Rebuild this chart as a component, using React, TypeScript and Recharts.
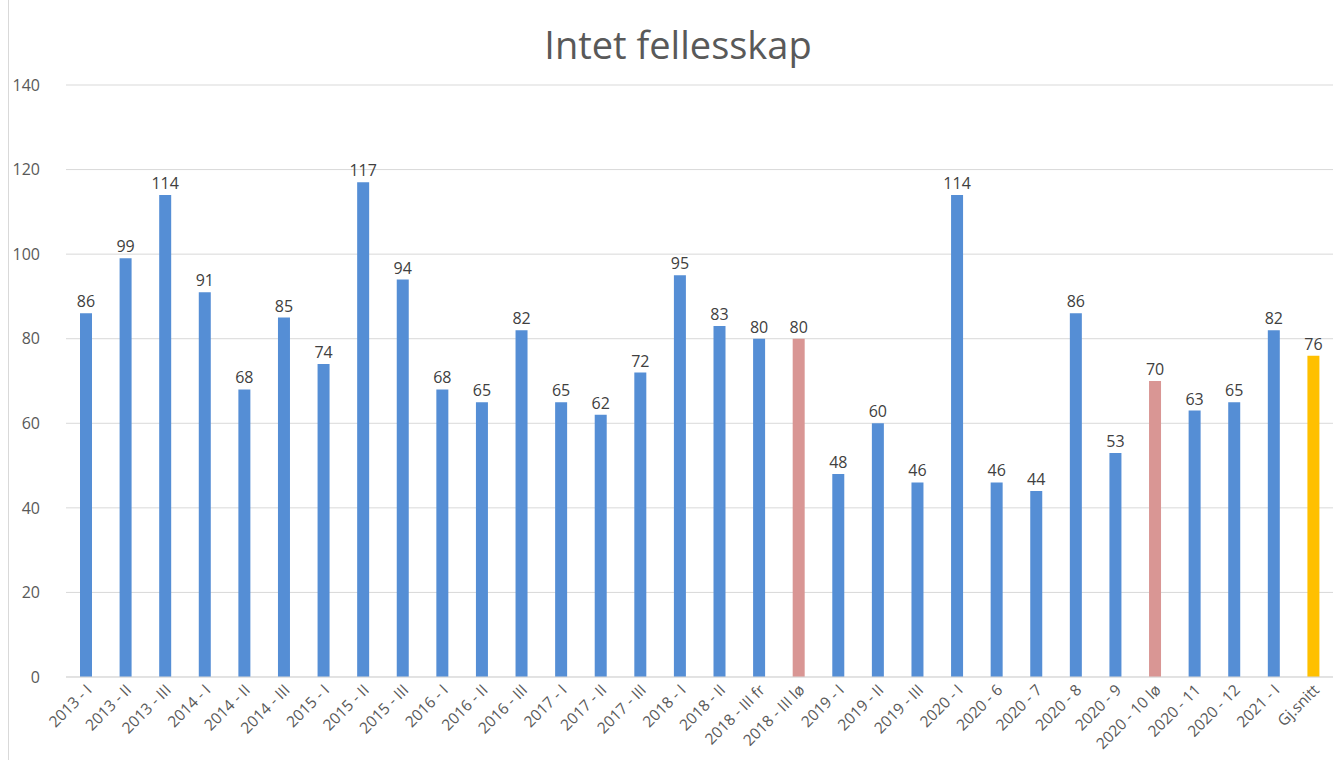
import React from 'react';
import { BarChart, Bar, XAxis, YAxis, CartesianGrid, Cell, LabelList } from 'recharts';

const categories = [
  '2013 - I', '2013 - II', '2013 - III', '2014 - I', '2014 - II', '2014 - III',
  '2015 - I', '2015 - II', '2015 - III', '2016 - I', '2016 - II', '2016 - III',
  '2017 - I', '2017 - II', '2017 - III', '2018 - I', '2018 - II', '2018 - III fr',
  '2018 - III lø', '2019 - I', '2019 - II', '2019 - III', '2020 - I', '2020 - 6',
  '2020 - 7', '2020 - 8', '2020 - 9', '2020 - 10 lø', '2020 - 11', '2020 - 12',
  '2021 - I', 'Gj.snitt',
];

const values = [
  86, 99, 114, 91, 68, 85, 74, 117, 94, 68, 65, 82, 65, 62, 72, 95, 83, 80,
  80, 48, 60, 46, 114, 46, 44, 86, 53, 70, 63, 65, 82, 76,
];

// highlighted categories
const pinkCategories = ['2018 - III lø', '2020 - 10 lø'];
const averageCategory = 'Gj.snitt';

const yTicks = [0, 20, 40, 60, 80, 100, 120, 140];

const data = categories.map((name, i) => ({ name, value: values[i] }));

const colorFor = (name: string) => {
  if (name === averageCategory) return '#FFC000';
  if (pinkCategories.includes(name)) return '#D99694';
  return '#558ED5';
};

const FONT = '"Open Sans", "Liberation Sans", sans-serif';

const XTick = (props: any) => {
  const { x, y, payload } = props;
  return (
    <g transform={`translate(${x + 7},${y + 6})`}>
      <text
        textAnchor='end'
        transform='rotate(-45)'
        fontSize={15.5}
        fontFamily={FONT}
        fill='#595959'
      >
        {payload.value}
      </text>
    </g>
  );
};

const App = () => {
  return (
    <div
      style={{
        position: 'absolute',
        left: 0,
        top: 0,
        width: 1337,
        height: 760,
        background: '#fff',
        fontFamily: FONT,
      }}
    >
      <div
        style={{
          position: 'absolute',
          left: 8,
          top: 0,
          width: 1,
          height: 760,
          background: '#d9d9d9',
        }}
      />
      <div
        style={{
          position: 'absolute',
          left: 0,
          top: 18,
          width: 1356,
          textAlign: 'center',
          fontSize: 38,
          color: '#595959',
        }}
      >
        Intet fellesskap
      </div>
      <BarChart
        width={1337}
        height={760}
        data={data}
        margin={{ top: 85, right: 4, bottom: 3, left: 0 }}
        barSize={12}
      >
        <CartesianGrid vertical={false} stroke='#d9d9d9' />
        <XAxis
          dataKey='name'
          interval={0}
          height={80}
          tick={<XTick />}
          tickLine={false}
          axisLine={{ stroke: '#d9d9d9' }}
        />
        <YAxis
          width={66}
          domain={[0, 140]}
          ticks={yTicks}
          tickLine={false}
          axisLine={false}
          tickMargin={20}
          tick={{ fontSize: 16, fill: '#595959', fontFamily: FONT }}
        />
        <Bar dataKey='value' isAnimationActive={false}>
          {data.map((entry, index) => (
            <Cell key={`cell-${index}`} fill={colorFor(entry.name)} />
          ))}
          <LabelList
            dataKey='value'
            position='top'
            offset={6}
            style={{ fontSize: 16, fill: '#404040', fontFamily: FONT }}
          />
        </Bar>
      </BarChart>
    </div>
  );
};

export default App;
